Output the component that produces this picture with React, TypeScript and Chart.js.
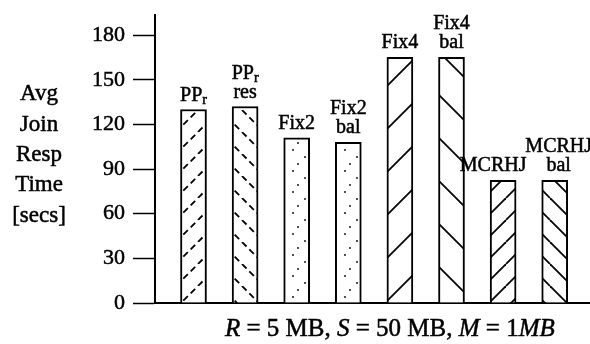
import React, { useEffect, useRef } from 'react';
import { Chart, registerables } from 'chart.js';

Chart.register(...registerables);

// ---- data ----
const categories = ['PP_r', 'PP_r res', 'Fix2', 'Fix2 bal', 'Fix4', 'Fix4 bal', 'MCRHJ', 'MCRHJ bal'];
const barLabelLines: string[][] = [
  ['PP_r'],
  ['PP_r', 'res'],
  ['Fix2'],
  ['Fix2', 'bal'],
  ['Fix4'],
  ['Fix4', 'bal'],
  ['MCRHJ'],
  ['MCRHJ', 'bal'],
];
const respTimes = [130, 132, 111, 108, 165, 165, 82.5, 82.5];
const yTitleLines = ['Avg', 'Join', 'Resp', 'Time', '[secs]'];
const xTitleParts = [
  { t: 'R', i: true },
  { t: ' = 5 MB, ', i: false },
  { t: 'S', i: true },
  { t: ' = 50 MB, ', i: false },
  { t: 'M', i: true },
  { t: ' = 1', i: false },
  { t: 'MB', i: true },
];
const yStep = 30;
const yMax = 193.5;

// ---- styles ----
const FONT = '"Liberation Serif", "DejaVu Serif", serif';
const patternKinds = ['dashUp', 'dashDown', 'dots', 'dots', 'wideUp', 'wideDown', 'up', 'down'];
const labelShift = [0, 0, 0, 0, 0, 0, -10, 4];
const INK = 0.5;

function hatch(s: number, dir: 1 | -1, dash: number[] | null, lw = 1.8): CanvasPattern {
  const c = document.createElement('canvas');
  c.width = s;
  c.height = s;
  const g = c.getContext('2d')!;
  g.fillStyle = '#fff';
  g.fillRect(0, 0, s, s);
  g.strokeStyle = '#000';
  g.lineWidth = lw;
  g.lineCap = 'butt';
  if (dash) g.setLineDash(dash);
  for (const k of [-1, 0, 1]) {
    g.beginPath();
    if (dir === 1) {
      g.moveTo(k * s, s);
      g.lineTo(k * s + s, 0);
    } else {
      g.moveTo(k * s, 0);
      g.lineTo(k * s + s, s);
    }
    g.stroke();
  }
  return g.createPattern(c, 'repeat')!;
}

function dots(): CanvasPattern {
  const w = 26, h = 21;
  const c = document.createElement('canvas');
  c.width = w;
  c.height = h;
  const g = c.getContext('2d')!;
  g.fillStyle = '#fff';
  g.fillRect(0, 0, w, h);
  g.fillStyle = '#000';
  for (const [x, y] of [[7, 3], [19, 10], [12, 17]]) {
    g.beginPath();
    g.arc(x, y, 0.9, 0, Math.PI * 2);
    g.fill();
  }
  return g.createPattern(c, 'repeat')!;
}

function makePattern(kind: string): CanvasPattern {
  const d = Math.SQRT2 * 22;
  switch (kind) {
    case 'dashUp': return hatch(22, 1, [d / 3 - 4, 4]);
    case 'dashDown': return hatch(22, -1, [d / 3 - 4, 4]);
    case 'wideUp': return hatch(43, 1, null);
    case 'wideDown': return hatch(43, -1, null);
    case 'up': return hatch(22, 1, null);
    case 'down': return hatch(22, -1, null);
    default: return dots();
  }
}

function inkText(ctx: CanvasRenderingContext2D, t: string, x: number, y: number) {
  ctx.fillText(t, x, y);
  ctx.strokeText(t, x, y);
}

function drawRich(ctx: CanvasRenderingContext2D, text: string, cx: number, baseline: number, size: number) {
  const parts = text.split('_');
  const segs = [{ t: parts[0], sub: false }];
  if (parts.length > 1) segs.push({ t: parts[1], sub: true });
  const fMain = `${size}px ${FONT}`;
  const fSub = `${Math.round(size * 0.68)}px ${FONT}`;
  let w = 0;
  for (const s of segs) {
    ctx.font = s.sub ? fSub : fMain;
    w += ctx.measureText(s.t).width;
  }
  let x = cx - w / 2;
  ctx.textAlign = 'left';
  ctx.textBaseline = 'alphabetic';
  for (const s of segs) {
    ctx.font = s.sub ? fSub : fMain;
    inkText(ctx, s.t, x, baseline + (s.sub ? 3 : 0));
    x += ctx.measureText(s.t).width;
  }
}

const barLabelPlugin = {
  id: 'barLabels',
  afterDatasetsDraw(chart: any) {
    const ctx: CanvasRenderingContext2D = chart.ctx;
    const meta = chart.getDatasetMeta(0);
    ctx.save();
    ctx.fillStyle = '#000';
    ctx.strokeStyle = '#000';
    ctx.lineWidth = INK;
    meta.data.forEach((bar: any, i: number) => {
      const lines = barLabelLines[i];
      const cx = bar.x + labelShift[i];
      const base = bar.y - 9;
      for (let j = 0; j < lines.length; j++) {
        const off = (lines.length - 1 - j) * 19;
        drawRich(ctx, lines[j], cx, base - off, 20);
      }
    });
    ctx.restore();
  },
};

const axisTitlePlugin = {
  id: 'axisTitles',
  afterDraw(chart: any) {
    const ctx: CanvasRenderingContext2D = chart.ctx;
    const area = chart.chartArea;
    ctx.save();
    ctx.fillStyle = '#000';
    ctx.strokeStyle = '#000';
    ctx.lineWidth = INK;
    // y title (horizontal, stacked lines)
    ctx.font = `23px ${FONT}`;
    ctx.textAlign = 'center';
    ctx.textBaseline = 'middle';
    const lh = 30.3;
    const midY = (area.top + area.bottom) / 2 - 4;
    const startY = midY - ((yTitleLines.length - 1) * lh) / 2;
    yTitleLines.forEach((l, i) => inkText(ctx, l, 39, startY + i * lh));
    // x title (mixed italic)
    const size = 25;
    let w = 0;
    for (const p of xTitleParts) {
      ctx.font = `${p.i ? 'italic ' : ''}${size}px ${FONT}`;
      w += ctx.measureText(p.t).width;
    }
    const cx = area.left + area.width * 0.54;
    let x = cx - w / 2;
    ctx.textAlign = 'left';
    ctx.textBaseline = 'alphabetic';
    const by = area.bottom + 33;
    for (const p of xTitleParts) {
      ctx.font = `${p.i ? 'italic ' : ''}${size}px ${FONT}`;
      inkText(ctx, p.t, x, by);
      x += ctx.measureText(p.t).width;
    }
    ctx.restore();
  },
};

export default function App() {
  const ref = useRef<HTMLCanvasElement | null>(null);

  useEffect(() => {
    if (!ref.current) return;
    const chart = new Chart(ref.current, {
      type: 'bar',
      data: {
        datasets: [
          {
            label: 'Avg Join Resp Time',
            data: categories.map((_, i) => ({ x: i, y: respTimes[i] })),
            backgroundColor: patternKinds.map(makePattern),
            borderColor: '#000',
            borderWidth: 2,
            barThickness: 26,
          } as any,
        ],
      },
      options: {
        animation: false,
        responsive: false,
        devicePixelRatio: 1,
        layout: { padding: { top: 15, bottom: 41, left: 0, right: 0 } },
        plugins: {
          legend: { display: false },
          tooltip: { enabled: false },
          title: { display: false },
        },
        scales: {
          x: {
            type: 'linear',
            offset: false,
            min: -0.746,
            max: 7.684,
            ticks: { display: false },
            grid: { display: false, drawTicks: false, offset: false },
            border: { display: true, color: '#000', width: 2 },
          },
          y: {
            min: 0,
            max: yMax,
            ticks: {
              stepSize: yStep,
              includeBounds: false,
              padding: 8,
              color: '#000',
              textStrokeColor: '#000',
              textStrokeWidth: INK,
              font: { family: FONT, size: 22, lineHeight: 0.6 },
            },
            grid: {
              display: true,
              drawOnChartArea: false,
              drawTicks: true,
              tickLength: 22,
              tickColor: '#000',
              tickWidth: 1.5,
            },
            border: { display: true, color: '#000', width: 2 },
            afterFit: (s: any) => {
              s.width = 155;
            },
          },
        },
      } as any,
      plugins: [barLabelPlugin, axisTitlePlugin],
    });
    return () => chart.destroy();
  }, []);

  return (
    <div style={{ position: 'fixed', left: 0, top: 0, width: 590, height: 344, background: '#fff' }}>
      <canvas ref={ref} width={590} height={344} />
    </div>
  );
}
